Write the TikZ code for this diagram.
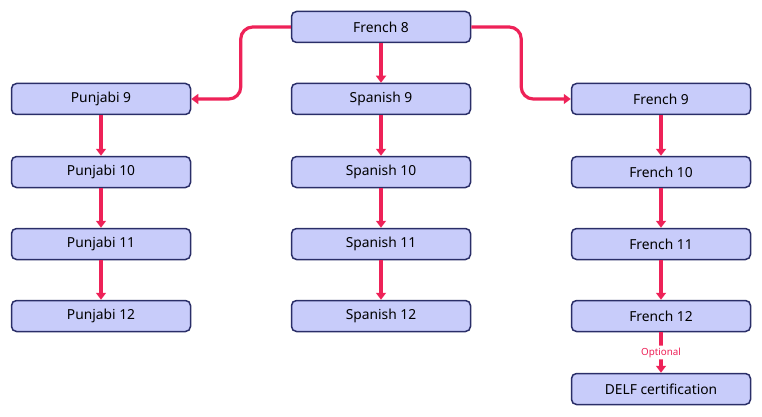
\documentclass[tikz,border=0pt]{standalone}
\usepackage{fontspec}
\setmainfont{Noto Sans}
\usetikzlibrary{arrows.meta,positioning}
\definecolor{boxfill}{RGB}{200,204,250}
\definecolor{boxline}{RGB}{42,46,104}
\definecolor{flow}{RGB}{238,34,88}
\tikzset{
  course/.style={draw=boxline,fill=boxfill,line width=1.5pt,rounded corners=5pt,
    minimum width=179pt,minimum height=31pt,font=\fontsize{13.8}{16}\selectfont,text=black},
  link/.style={draw=flow,line width=3.2pt,-{Triangle[length=7pt,width=10pt]},rounded corners=12pt}
}
\begin{document}
\begin{tikzpicture}[x=1pt,y=-1pt]
\useasboundingbox (0,0) rectangle (762,417);
\node[course] (fr8) at (381,27) {French 8};
% Punjabi column
\node[course] (pa9) at (101,99) {Punjabi 9};
\node[course] (pa10) at (101,172) {Punjabi 10};
\node[course] (pa11) at (101,244) {Punjabi 11};
\node[course] (pa12) at (101,316) {Punjabi 12};
% Spanish column
\node[course] (es9) at (381,99) {Spanish 9};
\node[course] (es10) at (381,172) {Spanish 10};
\node[course] (es11) at (381,244) {Spanish 11};
\node[course] (es12) at (381,316) {Spanish 12};
% French column
\node[course] (fr9) at (661,99) {French 9};
\node[course] (fr10) at (661,172) {French 10};
\node[course] (fr11) at (661,244) {French 11};
\node[course] (fr12) at (661,316) {French 12};
\node[course] (delf) at (661,389) {DELF certification};

\draw[link] (fr8.west) -- ++(-50,0) |- (pa9.east);
\draw[link] (fr8.east) -- ++(50,0) |- (fr9.west);
\draw[link] (fr8) -- (es9);
\foreach \a/\b in {pa9/pa10,pa10/pa11,pa11/pa12,es9/es10,es10/es11,es11/es12,fr9/fr10,fr10/fr11,fr11/fr12}
  \draw[link] (\a) -- (\b);
\draw[link] (fr12) -- node[fill=white,text=flow,font=\fontsize{9.8}{11}\selectfont,inner sep=2pt] (opt) {Optional} (delf);
\end{tikzpicture}
\end{document}
